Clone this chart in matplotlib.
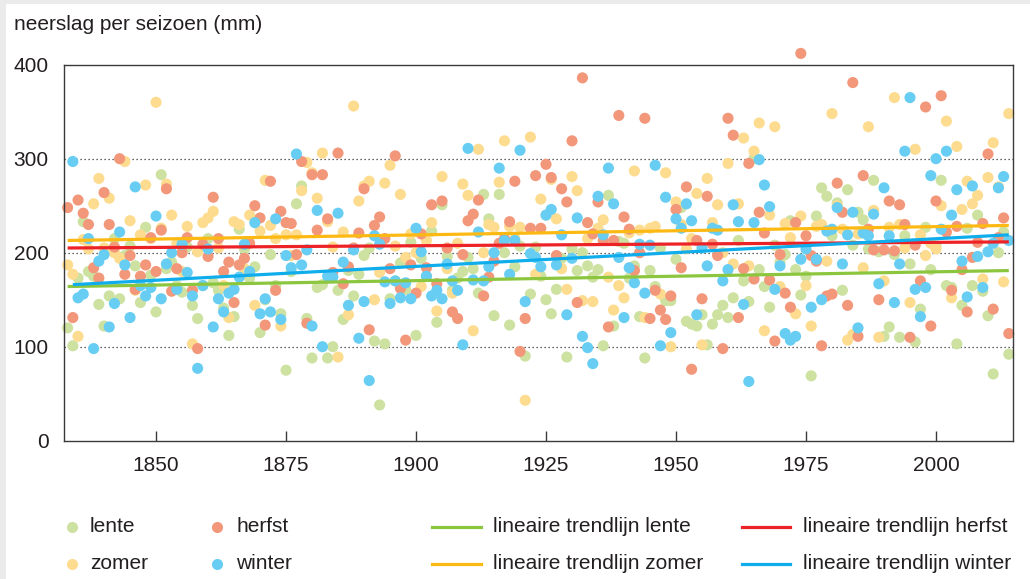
import numpy as np
import matplotlib
matplotlib.use("Agg")
import matplotlib.pyplot as plt
from matplotlib.lines import Line2D
from matplotlib.patches import Rectangle

plt.rcParams['font.family'] = ['Liberation Sans', 'DejaVu Sans']

# seizoensneerslag (mm), jaren 1833-2014
years = np.arange(1833, 2015)

lente = [
    120, 101, 173, 233, 180, 175, 145, 122, 154, 215,
    151, 197, 207, 186, 147, 227, 176, 137, 283, 183,
    190, 165, 158, 206, 144, 130, 165, 215, 168, 160,
    141, 112, 132, 225, 204, 173, 185, 115, 150, 198,
    165, 135, 75, 180, 252, 271, 130, 88, 163, 166,
    88, 100, 160, 129, 181, 154, 177, 197, 205, 106,
    38, 103, 151, 170, 189, 161, 211, 112, 194, 175,
    223, 126, 251, 196, 160, 173, 180, 195, 183, 157,
    262, 236, 133, 262, 200, 123, 185, 207, 90, 156,
    206, 175, 150, 135, 161, 194, 89, 204, 181, 200,
    186, 174, 182, 101, 261, 122, 212, 210, 173, 186,
    132, 88, 181, 164, 205, 149, 149, 193, 248, 127,
    124, 122, 134, 102, 124, 134, 144, 131, 152, 213,
    170, 148, 300, 182, 164, 142, 208, 190, 198, 234,
    182, 155, 175, 69, 239, 269, 260, 218, 253, 160,
    267, 208, 243, 235, 204, 277, 201, 111, 121, 198,
    110, 218, 188, 105, 140, 227, 182, 207, 277, 165,
    163, 103, 144, 226, 165, 240, 159, 133, 71, 200,
    222, 92,
]

zomer = [
    187, 177, 111, 214, 204, 252, 279, 205, 258, 200,
    194, 297, 234, 160, 219, 272, 215, 360, 226, 273,
    240, 210, 180, 228, 103, 201, 232, 237, 244, 205,
    165, 131, 233, 230, 183, 240, 144, 223, 277, 229,
    215, 122, 219, 197, 219, 266, 296, 285, 258, 306,
    233, 206, 89, 222, 134, 356, 255, 271, 276, 150,
    179, 274, 293, 207, 262, 195, 220, 200, 164, 213,
    232, 138, 281, 183, 157, 210, 273, 261, 117, 310,
    200, 230, 227, 275, 319, 228, 215, 227, 43, 323,
    177, 257, 240, 278, 236, 183, 161, 281, 266, 149,
    215, 148, 226, 235, 174, 139, 165, 152, 221, 287,
    224, 131, 226, 228, 156, 285, 100, 254, 230, 204,
    215, 263, 102, 279, 232, 251, 200, 295, 188, 252,
    322, 186, 308, 338, 117, 240, 334, 164, 231, 216,
    135, 239, 165, 122, 228, 230, 191, 348, 250, 225,
    107, 113, 220, 184, 334, 245, 110, 170, 227, 365,
    230, 205, 147, 310, 219, 197, 210, 204, 250, 340,
    152, 313, 246, 276, 252, 261, 172, 280, 317, 270,
    169, 348,
]

herfst = [
    248, 131, 256, 242, 230, 184, 173, 264, 230, 206,
    300, 177, 197, 161, 175, 187, 216, 180, 224, 268,
    159, 183, 200, 216, 160, 98, 209, 196, 259, 215,
    180, 190, 147, 187, 194, 210, 250, 237, 123, 276,
    160, 244, 232, 231, 198, 297, 125, 283, 224, 283,
    236, 179, 306, 167, 185, 205, 221, 268, 118, 229,
    238, 215, 183, 303, 162, 107, 187, 157, 220, 184,
    251, 167, 255, 205, 137, 130, 198, 234, 241, 256,
    154, 174, 191, 210, 215, 233, 276, 95, 130, 226,
    282, 226, 294, 280, 197, 268, 254, 319, 147, 386,
    232, 220, 254, 213, 121, 213, 346, 238, 225, 181,
    200, 343, 130, 160, 139, 129, 154, 246, 184, 270,
    76, 213, 151, 260, 209, 197, 98, 343, 325, 131,
    183, 295, 172, 243, 221, 171, 106, 198, 157, 142,
    232, 412, 218, 197, 191, 101, 154, 156, 274, 243,
    144, 381, 111, 282, 225, 203, 150, 203, 255, 202,
    251, 230, 110, 208, 170, 355, 122, 255, 367, 222,
    160, 228, 182, 137, 195, 211, 231, 305, 140, 216,
    237, 114,
]

winter = [
    np.nan, 297, 152, 156, 215, 98, 191, 198, 121, 146,
    222, 187, 131, 270, 165, 154, 163, 239, 151, 188,
    200, 161, 209, 179, 154, 77, 165, 204, 121, 151,
    137, 157, 161, 174, 209, 180, 232, 135, 151, 137,
    236, 129, 197, 184, 305, 187, 203, 122, 245, 100,
    175, 174, 242, 190, 144, 203, 109, 148, 64, 218,
    209, 169, 146, 170, 152, 168, 151, 226, 201, 175,
    154, 160, 151, 188, 170, 160, 102, 311, 171, 222,
    170, 185, 200, 290, 213, 177, 213, 309, 148, 199,
    195, 185, 240, 246, 187, 219, 134, 194, 237, 111,
    99, 82, 260, 219, 290, 252, 195, 131, 184, 168,
    209, 157, 208, 293, 101, 259, 115, 236, 226, 252,
    234, 134, 205, 186, 226, 224, 170, 182, 251, 233,
    145, 63, 232, 299, 272, 249, 161, 186, 114, 107,
    111, 193, 204, 142, 193, 150, 223, 225, 248, 188,
    219, 243, 120, 221, 218, 241, 167, 269, 218, 147,
    188, 308, 365, 161, 132, 163, 282, 300, 225, 308,
    240, 267, 191, 153, 271, 196, 163, 201, 210, 269,
    281, 213,
]

seasons = ['lente', 'zomer', 'herfst', 'winter']
trend_first_year = [1833, 1833, 1833, 1834]
trend_last_year = [2014, 2014, 2014, 2014]
trend_start = [164, 213, 205, 166]
trend_end = [181, 229, 211.5, 219]

dot_colors = {'lente': '#cde1a1', 'zomer': '#fddc8f', 'herfst': '#f3977b', 'winter': '#68cdf3'}
line_colors = {'lente': '#8cc63e', 'zomer': '#fdb913', 'herfst': '#ec2227', 'winter': '#0fadec'}
text_color = '#231f20'

fig = plt.figure(figsize=(10.30, 5.79), dpi=100)
fig.patch.set_facecolor('#ebebeb')
fig.add_artist(Rectangle((6 / 1030, 0), 1 - 6 / 1030, 1 - 4 / 579,
                         transform=fig.transFigure, facecolor='white',
                         edgecolor='none', zorder=0))

ax = fig.add_axes([64 / 1030, 1 - 440.7 / 579, 948.7 / 1030, 376 / 579])
ax.set_facecolor('white')

series = {'lente': lente, 'zomer': zomer, 'herfst': herfst, 'winter': winter}
for name in seasons:
    ax.scatter(years, series[name], s=64, color=dot_colors[name],
               edgecolors='none', zorder=2, clip_on=False)

for i, name in enumerate(seasons):
    ax.plot([trend_first_year[i], trend_last_year[i]], [trend_start[i], trend_end[i]],
            color=line_colors[name], lw=2.3, zorder=3, solid_capstyle='butt')

ax.set_xlim(1832.3, 2014.75)
ax.set_ylim(0, 400)
ax.set_xticks([1850, 1875, 1900, 1925, 1950, 1975, 2000])
ax.set_yticks([0, 100, 200, 300, 400])

for gy in [100, 200, 300]:
    ax.axhline(gy, color='#333333', lw=0.9, linestyle=(0, (1, 2.2)), zorder=1)

for sp in ax.spines.values():
    sp.set_color('#3a3a3a')
    sp.set_linewidth(1.0)

ax.tick_params(axis='x', direction='in', length=7.5, width=1.0, color='#3a3a3a',
               pad=11, labelsize=15, labelcolor=text_color)
ax.tick_params(axis='y', length=0, pad=11, labelsize=15, labelcolor=text_color)

fig.text(14 / 1030, 1 - 24 / 579, 'neerslag per seizoen (mm)', fontsize=15,
         color=text_color, ha='left', va='center')

# legenda onderaan
row_y = [1 - 526.5 / 579, 1 - 563.5 / 579]
dot_items = [('lente', 0, 0), ('zomer', 0, 1), ('herfst', 1, 0), ('winter', 1, 1)]
dot_x = [72 / 1030, 217 / 1030]
dot_text_x = [90 / 1030, 236 / 1030]
for name, col, row in dot_items:
    fig.add_artist(Line2D([dot_x[col]], [row_y[row]], marker='o', markersize=8,
                          color=dot_colors[name], markeredgewidth=0,
                          linestyle='none', transform=fig.transFigure))
    fig.text(dot_text_x[col], row_y[row], name, fontsize=15, color=text_color,
             ha='left', va='center')

line_items = [('lente', 0, 0), ('zomer', 0, 1), ('herfst', 1, 0), ('winter', 1, 1)]
line_x = [(432 / 1030, 481 / 1030), (742 / 1030, 790 / 1030)]
line_text_x = [493 / 1030, 803 / 1030]
for name, col, row in line_items:
    fig.add_artist(Line2D(list(line_x[col]), [row_y[row], row_y[row]],
                          color=line_colors[name], lw=2.3,
                          transform=fig.transFigure))
    fig.text(line_text_x[col], row_y[row], 'lineaire trendlijn ' + name, fontsize=15,
             color=text_color, ha='left', va='center')

fig.savefig('out.png', dpi=100, facecolor=fig.get_facecolor())
